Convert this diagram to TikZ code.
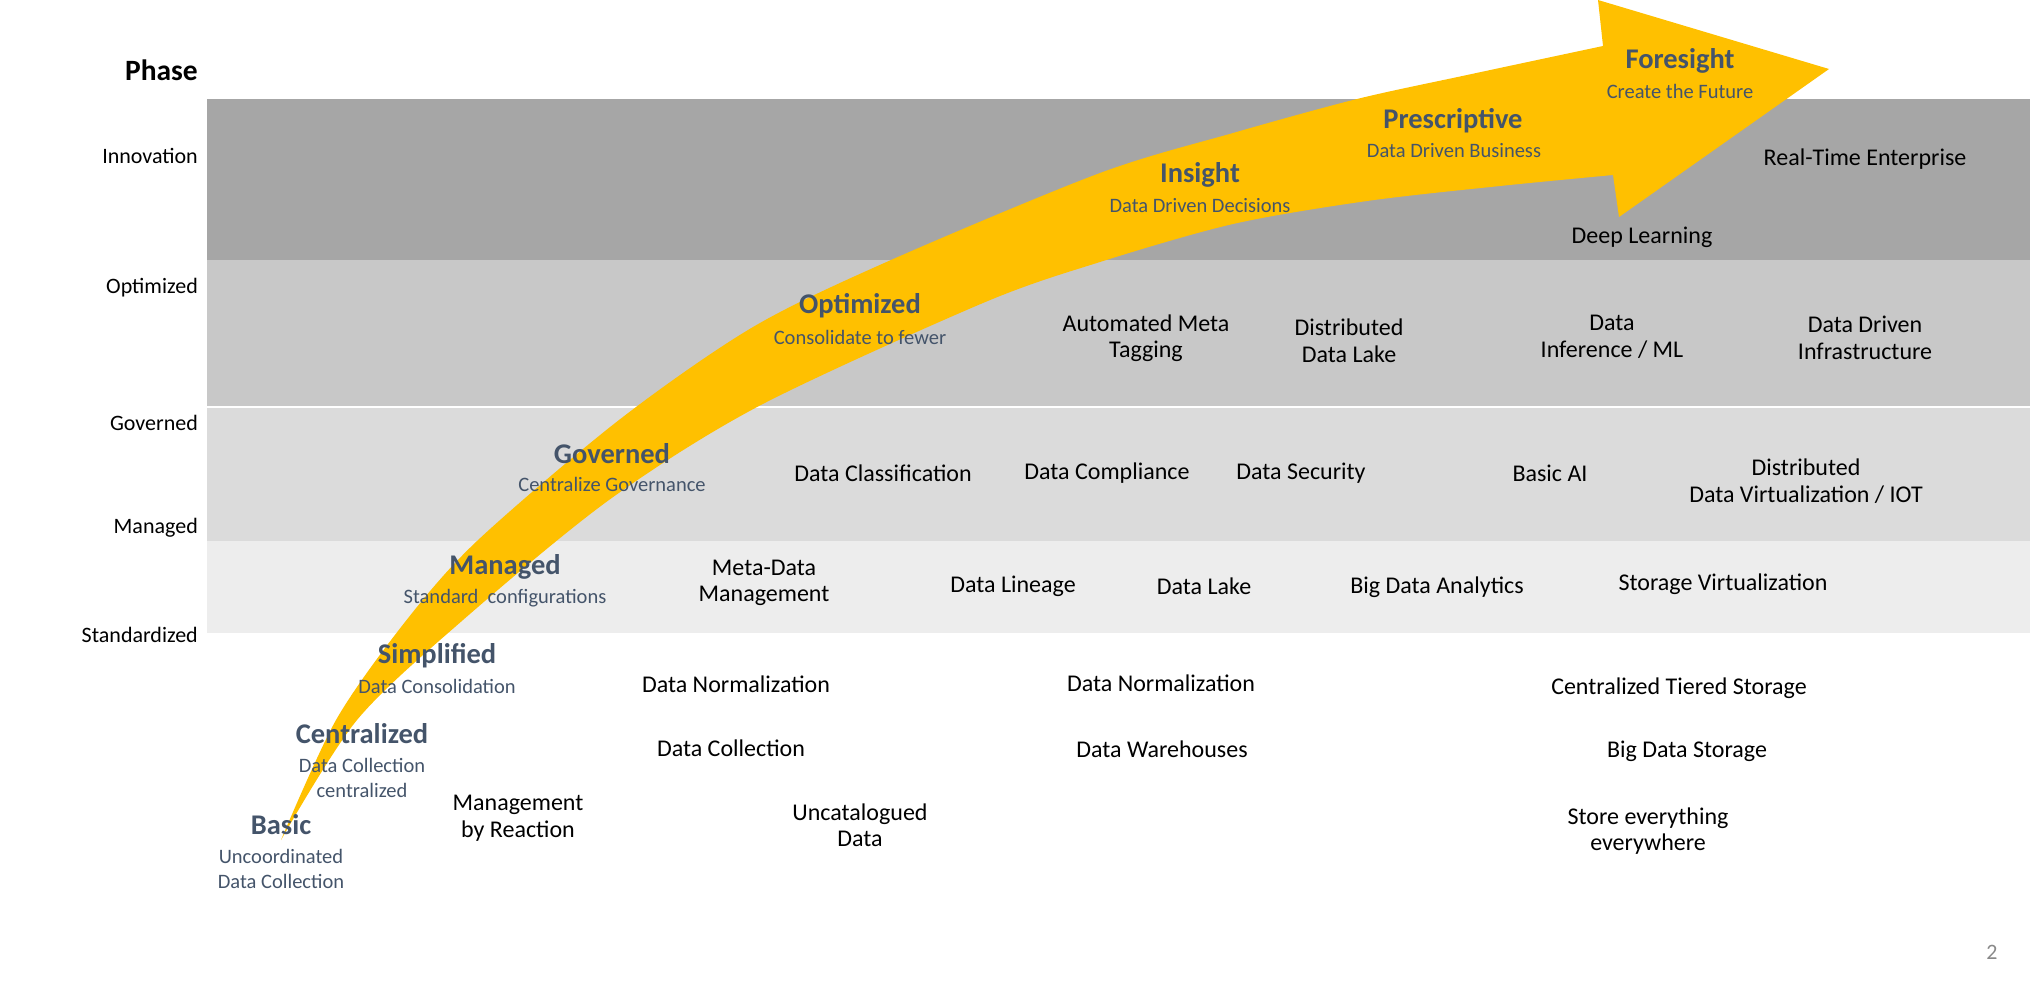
\documentclass[tikz,border=0pt]{standalone}
\usepackage{fontspec}
\setmainfont{Carlito}
\definecolor{bandA}{HTML}{A6A6A6}
\definecolor{bandB}{HTML}{C8C8C8}
\definecolor{bandC}{HTML}{DBDBDB}
\definecolor{bandD}{HTML}{EDEDED}
\definecolor{arrowyellow}{HTML}{FFC000}
\definecolor{phcol}{HTML}{44546A}
\definecolor{pagenum}{HTML}{898989}
\tikzset{
  body/.style={font=\fontsize{24}{26.5}\selectfont, align=center, text=black, inner sep=0pt},
  lvl/.style={font=\fontsize{22}{25}\selectfont, anchor=east, text=black, inner sep=0pt},
  phtitle/.style={font=\bfseries\fontsize{28.5}{32}\selectfont, text=phcol, inner sep=0pt},
  phsub/.style={font=\fontsize{20.5}{25}\selectfont, text=phcol, align=center, inner sep=0pt},
}
\begin{document}
\begin{tikzpicture}[x=1pt,y=-1pt]
\useasboundingbox (0,0) rectangle (2033,982);
% bands
\fill[bandA] (207,99) rectangle (2030,260);
\fill[bandB] (207,260) rectangle (2030,406);
\fill[bandC] (207,408) rectangle (2030,541);
\fill[bandD] (207,541) rectangle (2030,633);
% arrow
\fill[arrowyellow]
  plot[smooth, tension=0.5] coordinates {(281,840) (336,720) (405,622) (477,541) (619,420) (753,327) (891,260) (1100,173) (1233,133) (1357,99) (1467,75) (1603,46)}
  -- (1598,0) -- (1829,69) -- (1619,217) --
  plot[smooth, tension=0.5] coordinates {(1613,175) (1500,186) (1367,201) (1233,224) (1100,262) (983,303) (759,406) (609,500) (463,620) (357,720) (281,840)}
  -- cycle;
% left labels
\node[lvl, font=\bfseries\fontsize{29.5}{32}\selectfont] (phase) at (198,70) {Phase};
\node[lvl] (lInnov) at (198,156) {Innovation};
\node[lvl] (lOpt) at (198,288) {Optimized};
\node[lvl] (lGov) at (198,423) {Governed};
\node[lvl] (lMan) at (198,528) {Managed};
\node[lvl] (lStd) at (198,635) {Standardized};
% phases on arrow
\node[phtitle] (tFore) at (1680,61) {Foresight};
\node[phsub] (sFore) at (1680,91) {Create the Future};
\node[phtitle] (tPres) at (1453,121) {Prescriptive};
\node[phsub] (sPres) at (1454,151) {Data Driven Business};
\node[phtitle] (tIns) at (1200,175) {Insight};
\node[phsub] (sIns) at (1200,206) {Data Driven Decisions};
\node[phtitle] (tOpt) at (860,306) {Optimized};
\node[phsub] (sOpt) at (860,337) {Consolidate to fewer};
\node[phtitle] (tGov) at (612,454) {Governed};
\node[phsub] (sGov) at (612,484) {Centralize Governance};
\node[phtitle] (tMan) at (505,567) {Managed};
\node[phsub] (sMan) at (505,598) {Standard\ \ configurations};
\node[phtitle] (tSim) at (437,656) {Simplified};
\node[phsub] (sSim) at (437,686) {Data Consolidation};
\node[phtitle] (tCen) at (362,734) {Centralized};
\node[phsub] (sCen) at (362,778) {Data Collection\\centralized};
\node[phtitle] (tBas) at (281,825) {Basic};
\node[phsub] (sBas) at (281,869) {Uncoordinated\\Data Collection};
% innovation band
\node[body] (rte) at (1865,159) {Real-Time Enterprise};
\node[body] (deep) at (1642,237) {Deep Learning};
% optimized band
\node[body] (amt) at (1146,338) {Automated Meta\\Tagging};
\node[body] (ddl) at (1349,341) {Distributed\\Data Lake};
\node[body] (dml) at (1612,337) {Data\\Inference / ML};
\node[body] (ddi) at (1865,338) {Data Driven\\Infrastructure};
% governed band
\node[body] (dcl) at (883,473) {Data Classification};
\node[body] (dco) at (1107,473) {Data Compliance};
\node[body] (dse) at (1301,473) {Data Security};
\node[body] (bai) at (1550,473) {Basic AI};
\node[body] (dvi) at (1806,481) {Distributed\\Data Virtualization / IOT};
% managed band
\node[body] (mdm) at (764,583) {Meta-Data\\Management};
\node[body] (dli) at (1013,586) {Data Lineage};
\node[body] (dla) at (1204,586) {Data Lake};
\node[body] (bda) at (1437,587) {Big Data Analytics};
\node[body] (svi) at (1723,584) {Storage Virtualization};
% lower area
\node[body] (dn1) at (736,684) {Data Normalization};
\node[body] (dn2) at (1161,683) {Data Normalization};
\node[body] (cts) at (1679,688) {Centralized Tiered Storage};
\node[body] (dcn) at (731,748) {Data Collection};
\node[body] (dwh) at (1162,749) {Data Warehouses};
\node[body] (bds) at (1687,751) {Big Data Storage};
\node[body] (mbr) at (518,818) {Management\\by Reaction};
\node[body] (ucd) at (860,825) {Uncatalogued\\Data};
\node[body] (see) at (1648,831) {Store everything\\everywhere};
\node[font=\fontsize{22}{24}\selectfont, text=pagenum, inner sep=0pt] (pnum) at (1992,952) {2};
\end{tikzpicture}
\end{document}
